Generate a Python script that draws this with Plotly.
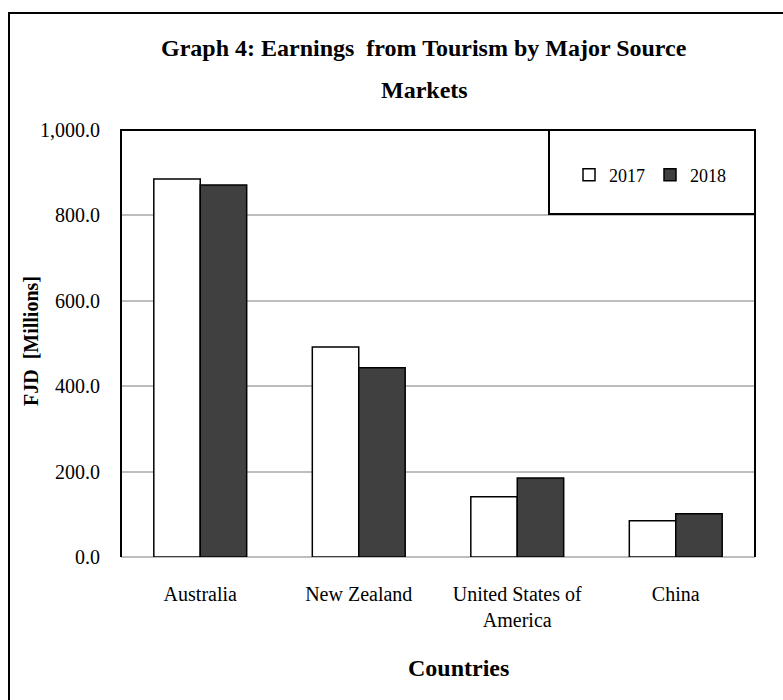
import plotly.graph_objects as go

categories = ["Australia", "New Zealand", "United States of<br>America", "China"]
series_names = ["2017", "2018"]
values_2017 = [885.0, 492.0, 141.0, 85.0]
values_2018 = [871.0, 443.0, 185.0, 101.0]
y_ticks = [0, 200, 400, 600, 800, 1000]
y_tick_labels = ["0.0", "200.0", "400.0", "600.0", "800.0", "1,000.0"]

W, H = 783, 700
L, R, T, B = 121, 28, 130, 143
PW, PH = W - L - R, H - T - B

def px(x):
    return (x - L) / PW

def py(y):
    return (H - B - y) / PH

FONT = "Liberation Serif, Times New Roman, serif"

fig = go.Figure()
fig.add_trace(go.Bar(
    x=categories, y=values_2017, name=series_names[0],
    marker=dict(color="white", line=dict(color="black", width=1.5)),
))
fig.add_trace(go.Bar(
    x=categories, y=values_2018, name=series_names[1],
    marker=dict(color="#404040", line=dict(color="black", width=1.5)),
))

fig.update_layout(
    width=W, height=H,
    margin=dict(l=L, r=R, t=T, b=B, autoexpand=False),
    paper_bgcolor="white", plot_bgcolor="white",
    font=dict(family=FONT, color="black", size=20),
    barmode="group", bargap=0.414, bargroupgap=0,
    showlegend=True,
    legend=dict(
        orientation="h", x=px(650), y=py(175), xanchor="center", yanchor="middle",
        xref="paper", yref="paper",
        font=dict(size=18, family=FONT), bgcolor="rgba(0,0,0,0)",
        itemwidth=30, traceorder="normal",
    ),
    xaxis=dict(
        showgrid=False, showline=False, ticks="", zeroline=False,
        tickfont=dict(size=20, family=FONT), ticklabelstandoff=23,
    ),
    yaxis=dict(
        range=[0, 1000], tickvals=y_ticks, ticktext=y_tick_labels,
        showgrid=True, gridcolor="#bdbdbd", gridwidth=2,
        zeroline=True, zerolinecolor="#bdbdbd", zerolinewidth=2,
        showline=False, ticks="", tickfont=dict(size=20, family=FONT),
        ticklabelstandoff=20,
    ),
    shapes=[
        # plot area border (left, top, right)
        dict(type="path", xref="paper", yref="paper",
             path="M 0,0 L 0,1 L 1,1 L 1,0", line=dict(color="black", width=2)),
        # legend box
        dict(type="rect", xref="paper", yref="paper",
             x0=px(549), x1=1, y0=py(214), y1=1,
             line=dict(color="black", width=2), fillcolor="rgba(0,0,0,0)",
             layer="above"),
        # outer chart frame
        dict(type="rect", xref="paper", yref="paper",
             x0=px(9), x1=px(800), y0=py(720), y1=py(13),
             line=dict(color="black", width=2)),
    ],
    annotations=[
        dict(text="<b>Graph 4: Earnings  from Tourism by Major Source</b>",
             xref="paper", yref="paper", x=px(424), y=py(48),
             xanchor="center", yanchor="middle", showarrow=False,
             font=dict(size=24, family=FONT)),
        dict(text="<b>Markets</b>",
             xref="paper", yref="paper", x=px(424), y=py(90),
             xanchor="center", yanchor="middle", showarrow=False,
             font=dict(size=24, family=FONT)),
        dict(text="<b>Countries</b>",
             xref="paper", yref="paper", x=px(458), y=py(668),
             xanchor="center", yanchor="middle", showarrow=False,
             font=dict(size=24, family=FONT)),
        dict(text="<b>FJD  [Millions]</b>",
             xref="paper", yref="paper", x=px(31), y=py(341),
             xanchor="center", yanchor="middle", showarrow=False,
             textangle=-90, font=dict(size=20, family=FONT)),
    ],
)

fig.write_html(
    "out.html",
    config={"displayModeBar": False},
    post_script="document.body.style.margin='0';document.body.style.padding='0';"
                "document.documentElement.style.overflow='hidden';",
)
